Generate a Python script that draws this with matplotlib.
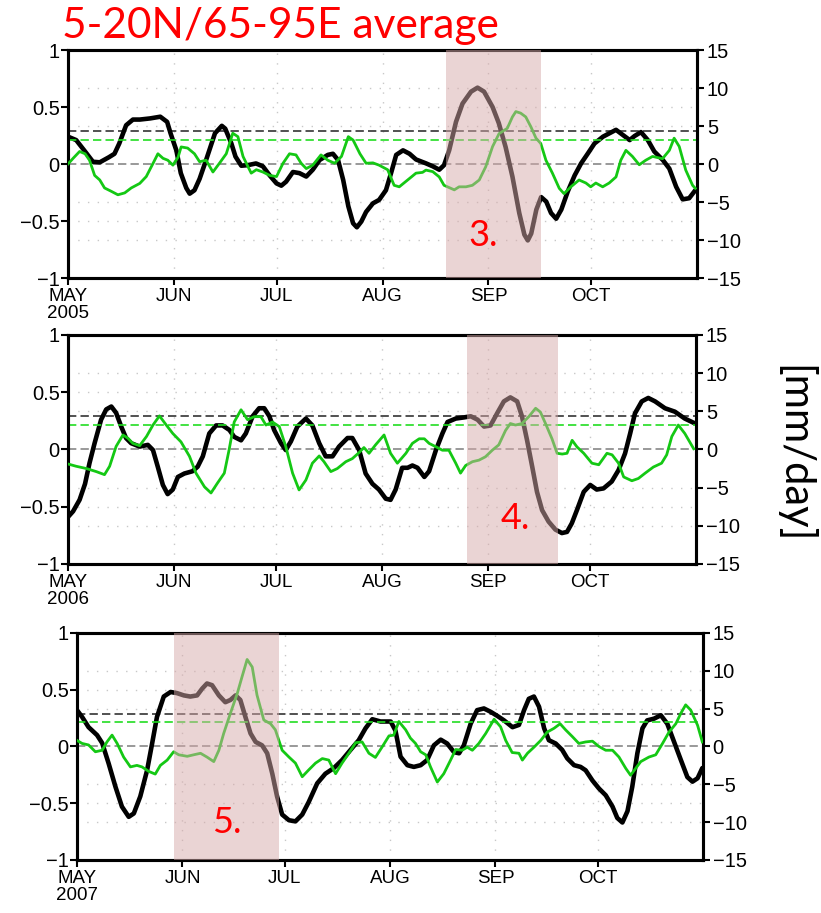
import numpy as np
import matplotlib
matplotlib.use('Agg')
import matplotlib.pyplot as plt

# days since 1 May
# 2005
days_k05 = [0, 2.4, 5, 7.3, 9.3, 12, 13.6, 15, 17, 19, 21, 24, 27, 29, 30, 31.7, 33, 34.6, 35.6, 37, 38.5, 40.4,
            43, 45, 46, 47.8, 49, 50.7, 52.6, 55, 57, 59, 61, 62.4, 63.8, 65.8, 67.7, 69.7, 71.6, 73.6, 76, 77.5,
            79, 80.5, 82, 83.4, 84.5, 85.8, 87.2, 89.2, 91, 93, 94.5, 96, 98, 99.9, 101.8, 104.7, 106.7, 108.6,
            110, 111.5, 113.5, 115.4, 117.9, 119.8, 121.7, 124.2, 126, 128, 130, 132, 133.5, 134.5, 135.5, 137,
            138.4, 139.9, 141.3, 142.8, 144.3, 146.2, 148.2, 150.1, 152.1, 154, 156.5, 158.4, 160.3, 162.3, 164.3,
            165.7, 167.6, 169.6, 171.5, 174, 175.9, 177.9, 179.8, 181.7, 183.5]
black_05 = [0.24, 0.21, 0.11, 0.02, 0.015, 0.06, 0.09, 0.18, 0.34, 0.39, 0.39, 0.40, 0.415, 0.37, 0.27, 0.12, -0.08,
            -0.21, -0.26, -0.23, -0.13, 0.035, 0.27, 0.335, 0.31, 0.18, 0.065, -0.015, -0.01, 0.005, -0.02, -0.10,
            -0.17, -0.19, -0.155, -0.07, -0.08, -0.11, -0.05, 0.035, 0.08, 0.09, 0.035, -0.14, -0.37, -0.52, -0.555,
            -0.505, -0.42, -0.345, -0.315, -0.23, -0.08, 0.08, 0.12, 0.09, 0.04, 0.006, -0.02, -0.05, -0.01, 0.12,
            0.37, 0.53, 0.635, 0.67, 0.635, 0.50, 0.36, 0.15, -0.11, -0.43, -0.62, -0.67, -0.61, -0.40, -0.29, -0.33,
            -0.43, -0.48, -0.40, -0.24, -0.10, 0.006, 0.094, 0.18, 0.24, 0.27, 0.30, 0.255, 0.21, 0.245, 0.28, 0.21,
            0.11, 0.035, -0.04, -0.20, -0.31, -0.30, -0.23]
days_g05 = [0, 1.5, 3.4, 5, 6.3, 7.8, 9.3, 10.7, 12.7, 14.6, 16.6, 18.5, 21, 22.9, 24.9, 26.3, 27.8, 29.2, 30.7,
            32.2, 33.1, 35, 37, 38.5, 40.4, 42.4, 44.3, 46.3, 48.2, 49.7, 51.2, 52.6, 53.6, 55.1, 57, 59, 61, 62.9,
            64.8, 66.7, 68.2, 69.7, 71.6, 74, 76, 78, 80, 82, 83.4, 85.4, 87.2, 89.2, 91, 93.5, 95.4, 96.9, 99.9,
            101.8, 103.7, 104.7, 106.7, 108.6, 110, 111.5, 113, 114.4, 116.4, 118.3, 120.3, 122.2, 124.2, 126.1,
            128.5, 130, 131, 132.4, 133.9, 135.4, 136.9, 138.3, 139.8, 141.7, 143.7, 145.1, 147.1, 149.5, 151.5,
            152.9, 154.4, 156.4, 158.3, 160.3, 161.7, 163.2, 165.1, 167.1, 169, 171, 173.9, 175.9, 177.3, 178.8,
            180.7, 182.7, 183.5]
green_05 = [0.0, 0.75, 1.65, 1.35, 0.5, -1.5, -2.1, -3.15, -3.6, -4.05, -3.8, -3.15, -2.55, -1.65, 0.1, 1.35, 0.75,
            0.5, -0.15, 0.9, 2.25, 2.1, 1.35, 0.3, 0.5, -1.05, 0.1, 1.35, 4.05, 3.6, 1.0, -0.3, -1.2, -0.75, -1.05,
            -1.5, -1.65, 0.1, 1.35, 1.2, 0.1, -0.6, -0.15, 1.2, 0.5, 0.1, 1.0, 3.6, 3.15, 1.35, 0.1, 0.15, -0.15,
            -0.75, -2.8, -3.0, -1.9, -1.2, -1.1, -0.8, -1.0, -1.7, -2.8, -3.1, -3.4, -3.0, -3.0, -2.8, -2.1, -0.35,
            2.3, 4.0, 4.7, 6.2, 6.9, 6.7, 6.2, 4.9, 3.4, 2.7, 0.5, -1.2, -3.2, -3.9, -3.0, -2.1, -2.5, -3.0, -2.5,
            -3.0, -2.5, -1.7, 0.5, 1.8, 1.0, -0.1, 0.5, 1.0, 0.7, 1.8, 3.4, 2.3, -0.8, -2.8, -3.2]

# 2006
days_k06 = [0, 1.5, 3.4, 5, 6.3, 7.8, 9.7, 11.2, 12.7, 14.1, 15.6, 17, 18.5, 21, 23.4, 24.9, 26.3, 27.8, 29.2,
            30.7, 32.2, 34.1, 36.5, 38, 39.5, 41.4, 43.4, 45.3, 47.3, 48.7, 50.7, 52.1, 54.1, 56, 57.5, 59, 60.4,
            62.4, 63.8, 65.3, 67.2, 69.7, 71.6, 73.6, 75.5, 77.5, 79.4, 81.9, 83.3, 85.3, 87.2, 89.2, 91.1, 93.1,
            94.5, 96, 97.9, 99.5, 100.9, 102.4, 104.4, 105.8, 107.8, 109.7, 111.2, 113.6, 116, 118, 120, 121.9,
            123.8, 125.8, 127.7, 129.6, 131.6, 133, 134.5, 136, 137.4, 138.9, 140.8, 142.8, 144.7, 146.2, 147.6,
            149.1, 151.1, 153, 154.9, 156.9, 159.3, 161.3, 163.2, 164.7, 166.1, 168.1, 170, 172, 174.9, 177.8,
            180.7, 183.5]
black_06 = [-0.59, -0.54, -0.44, -0.30, -0.12, 0.055, 0.26, 0.35, 0.375, 0.32, 0.20, 0.10, 0.055, 0.025, 0.04,
            -0.005, -0.15, -0.31, -0.39, -0.35, -0.24, -0.21, -0.19, -0.15, -0.06, 0.14, 0.21, 0.21, 0.17, 0.11,
            0.08, 0.14, 0.29, 0.36, 0.36, 0.29, 0.17, 0.055, -0.005, 0.07, 0.20, 0.27, 0.21, 0.055, -0.06, -0.06,
            0.025, 0.10, 0.10, -0.005, -0.21, -0.30, -0.35, -0.43, -0.44, -0.35, -0.16, -0.16, -0.14, -0.16, -0.24,
            -0.19, -0.005, 0.14, 0.24, 0.27, 0.28, 0.29, 0.26, 0.20, 0.21, 0.32, 0.42, 0.455, 0.42, 0.29, 0.08,
            -0.15, -0.37, -0.53, -0.63, -0.70, -0.73, -0.72, -0.645, -0.53, -0.37, -0.31, -0.35, -0.34, -0.28,
            -0.18, -0.035, 0.14, 0.315, 0.42, 0.45, 0.42, 0.36, 0.33, 0.27, 0.23]
days_g06 = [0, 2.4, 5.4, 8.3, 10.7, 12.2, 14.1, 16.1, 17.5, 19, 21, 23, 24.9, 26.8, 28.8, 30.7, 33.1, 35.6, 37.5,
            40, 41.9, 43.8, 45.8, 47.2, 48.7, 50.7, 52.6, 54.6, 56.5, 58, 59.9, 61.9, 63.8, 65.8, 67.7, 69.7, 71.6,
            73.6, 75, 77, 78.9, 81.4, 83.3, 85.3, 86.7, 88.2, 90.1, 92.6, 94.5, 96.5, 99, 100.9, 102.9, 104.4,
            105.8, 107.8, 109.7, 111.6, 113.6, 115, 116.5, 118.5, 120.4, 122.3, 124.3, 126.2, 128.2, 129.6, 131.1,
            133, 135, 137, 138.4, 139.9, 141.8, 143.3, 144.8, 146.2, 147.7, 149.1, 151.1, 153.5, 155.5, 157.9,
            159.4, 161.3, 162.8, 165.2, 167.1, 169.1, 171.5, 173.9, 175.4, 176.9, 178.8, 180.7, 183.3]
green_06 = [-1.9, -2.2, -2.5, -2.9, -3.3, -2.2, 0.4, 1.9, 1.5, 0.8, 0.5, 1.7, 3.2, 4.4, 3.2, 2.1, 1.0, -0.9, -3.1,
            -4.9, -5.7, -4.4, -3.1, -0.05, 3.6, 5.2, 3.9, 4.3, 4.3, 3.2, 3.6, 3.0, 0.4, -3.1, -5.3, -4.0, -1.8,
            -0.85, -1.6, -2.9, -2.5, -1.6, -1.2, -0.4, 0.25, -0.5, 0.6, 1.9, -0.5, -1.8, -0.5, 0.8, 1.4, 1.4, 0.8,
            0.35, -0.1, -0.1, -1.8, -3.1, -2.1, -1.6, -1.4, -0.96, -0.1, 0.6, 2.5, 3.4, 3.2, 3.4, 4.3, 5.4, 4.9,
            3.4, 1.4, -0.5, -0.6, -0.5, 1.2, 0.35, -0.5, -1.8, -2.0, -0.5, -0.7, -1.8, -3.6, -4.1, -3.8, -3.1,
            -2.3, -1.8, -0.7, 1.7, 3.2, 2.1, 0.1]

# 2007
days_k07 = [0, 1.5, 3.4, 5.9, 7.4, 9.3, 11.3, 13.2, 15.2, 16.7, 18.6, 20.6, 22.1, 23.5, 25.5, 27.5, 29.4, 31.4,
            33.3, 35.3, 36.8, 38.2, 39.7, 41.7, 43.6, 45.1, 46.6, 48, 49.5, 51, 52.5, 54.4, 55.9, 57.4, 58.8, 60.3,
            62.3, 64.2, 66.2, 68.1, 70.6, 73, 75.5, 77.9, 80.4, 82.8, 84.8, 86.8, 89.2, 92.2, 93.6, 95.1, 97.1,
            99, 101, 102.9, 104.9, 106.9, 108.8, 110.8, 112.3, 113.7, 115.7, 117.6, 119.6, 121.6, 123.5, 125.5,
            128, 129.9, 131.4, 132.8, 134.3, 135.8, 137.3, 138.7, 140.7, 142.6, 144.1, 146.1, 148, 149.5, 151.5,
            153.4, 155.4, 157.4, 158.8, 160.3, 161.8, 163.2, 164.7, 166.2, 167.6, 169.6, 171.6, 173.5, 175.5,
            177.5, 179.4, 180.9, 182.4, 183.8]
black_07 = [0.32, 0.26, 0.17, 0.10, 0.03, -0.15, -0.355, -0.53, -0.62, -0.59, -0.44, -0.21, 0.03, 0.26, 0.44,
            0.48, 0.47, 0.45, 0.44, 0.45, 0.51, 0.555, 0.54, 0.45, 0.39, 0.41, 0.45, 0.41, 0.26, 0.115, 0.04, 0.01,
            -0.06, -0.24, -0.44, -0.60, -0.65, -0.66, -0.60, -0.49, -0.325, -0.24, -0.19, -0.12, -0.03, 0.055, 0.16,
            0.24, 0.22, 0.22, 0.14, -0.09, -0.165, -0.18, -0.165, -0.12, 0.01, 0.06, 0.026, -0.05, -0.06, 0.01,
            0.20, 0.32, 0.335, 0.305, 0.27, 0.23, 0.17, 0.19, 0.32, 0.42, 0.44, 0.35, 0.16, 0.055, 0.026, -0.03,
            -0.105, -0.165, -0.18, -0.21, -0.30, -0.37, -0.43, -0.53, -0.63, -0.67, -0.57, -0.355, -0.06, 0.16,
            0.23, 0.245, 0.275, 0.20, 0.04, -0.12, -0.27, -0.31, -0.28, -0.19]
days_g07 = [0, 1.5, 3.4, 5.4, 7.4, 8.8, 10.3, 11.8, 13.7, 15.7, 17.6, 19.1, 21.1, 23, 24.5, 26.5, 28.4, 29.9,
            32.4, 34.3, 36.3, 38.2, 40.2, 41.7, 43.1, 45.1, 47.1, 48.5, 50, 51.5, 52.9, 54.9, 56.9, 58.3, 60.3,
            62.3, 64.2, 66.2, 68.1, 70.1, 72.1, 74, 76, 77.9, 79.9, 81.9, 83.8, 85.8, 87.7, 89.7, 91.7, 93.1, 94.6,
            96.6, 98, 99.5, 101, 102.5, 103.9, 105.9, 107.8, 109.8, 111.3, 113.2, 114.7, 116.2, 118.1, 120.1, 122.6,
            124.5, 126, 127.9, 129.9, 130.9, 132.4, 134.3, 136.3, 138.2, 140.2, 142, 143.6, 145.6, 147.5, 149.5,
            151.5, 153.4, 155.4, 157.4, 159.3, 161.3, 162.7, 164.2, 165.7, 168.1, 170.1, 172.1, 174, 176, 177.5,
            178.9, 180.4, 182.4, 183.8]
green_07 = [0.8, 0.4, 0.2, -0.7, -0.5, 0.6, 1.5, 0.4, -1.4, -2.7, -2.5, -2.7, -3.3, -3.65, -2.5, -1.8, -0.7, -1.1,
            -1.3, -1.1, -0.9, -1.4, -2.0, -0.5, 1.7, 4.4, 7.0, 9.2, 11.5, 10.5, 6.8, 3.5, 3.0, 2.2, -0.5, -1.4, -2.2,
            -4.0, -3.1, -2.2, -1.6, -1.8, -3.6, -2.2, -0.9, 0.5, 0.6, -0.9, -1.45, -0.05, 1.4, 1.5, 3.3, 2.2, 1.1,
            0.4, -0.7, -1.1, -2.7, -4.7, -3.6, -1.8, -0.4, -0.5, -0.1, -0.5, 0.4, 1.7, 3.6, 2.6, 0.8, -0.8, -0.9,
            -1.8, -0.9, -0.1, 0.8, 1.9, 2.4, 3.0, 2.2, 1.3, 0.4, 0.6, 0.7, 0.0, -0.5, -0.5, -1.4, -2.9, -3.8, -2.9,
            -2.0, -1.4, -1.1, 0.4, 1.9, 3.0, 4.4, 5.5, 4.8, 2.8, 0.6]

years = ['2005', '2006', '2007']
black_ref = 0.29      # dashed black reference (left axis)
green_ref = 3.2       # dashed green reference (mm/day)
shade_spans = [(110.5, 138.5), (117, 143.5), (28.5, 59.5)]
shade_labels = ['3.', '4.', '5.']
label_pos = [(121.5, -0.63), (131, -0.6), (44, -0.67)]

month_days = [0, 31, 61, 92, 123, 153]
month_names = ['MAY', 'JUN', 'JUL', 'AUG', 'SEP', 'OCT']

panels = [
    (days_k05, black_05, days_g05, green_05),
    (days_k06, black_06, days_g06, green_06),
    (days_k07, black_07, days_g07, green_07),
]
# axes boxes [left, bottom, width, height] in figure fractions
boxes = [[0.0828, 0.6955, 0.7662, 0.2497],
         [0.0828, 0.3823, 0.7650, 0.2508],
         [0.0938, 0.0581, 0.7625, 0.2486]]

tick_font = ['Liberation Sans', 'DejaVu Sans']
fig = plt.figure(figsize=(8.21, 9.13), dpi=100)

for i, (dk, vk, dg, vg) in enumerate(panels):
    ax = fig.add_axes(boxes[i])
    ax2 = ax.twinx()
    ax.set_xlim(0, 184)
    ax.set_ylim(-1, 1)
    ax2.set_ylim(-15, 15)

    # dotted grid
    for d in month_days[1:]:
        ax.axvline(d, color='#c8c8c8', lw=1, ls=(0, (1, 6)), zorder=0)
    for v in [-2/3, -0.5, -1/3, 1/3, 0.5, 2/3]:
        ax.axhline(v, color='#c8c8c8', lw=1, ls=(0, (1, 6)), zorder=0)

    ax.axhline(0, color='#888888', lw=1.2, ls=(0, (5, 2.5)), zorder=1)
    ax.axhline(black_ref, color='#333333', lw=1.2, ls=(0, (5, 2.5)), zorder=1)
    ax2.axhline(green_ref, color='#22dd22', lw=1.2, ls=(0, (5, 2.5)), zorder=1)

    ax.plot(dk, vk, color='black', lw=3.3, solid_capstyle='round', solid_joinstyle='round', zorder=3)
    ax2.plot(dg, vg, color='#14c814', lw=2.0, solid_joinstyle='round', zorder=3)

    # highlighted event window
    s0, s1 = shade_spans[i]
    ax2.axvspan(s0, s1, color='#d7aaaa', alpha=0.5, lw=0, zorder=5)
    ax2.text(label_pos[i][0], label_pos[i][1] * 15, shade_labels[i], color='red', fontsize=26,
             family='Lato', ha='center', va='center', zorder=6)

    ax.set_yticks([-1, -0.5, 0, 0.5, 1])
    ax.set_yticklabels(['\u22121', '\u22120.5', '0', '0.5', '1'])
    ax2.set_yticks([-15, -10, -5, 0, 5, 10, 15])
    ax2.set_yticklabels(['\u221215', '\u221210', '\u22125', '0', '5', '10', '15'])
    ax.set_xticks(month_days)
    ax.set_xticklabels([month_names[0] + '\n' + years[i]] + month_names[1:], linespacing=1.0)

    for a in (ax, ax2):
        for sp in a.spines.values():
            sp.set_linewidth(2.2)
    ax.tick_params(axis='y', direction='out', length=5, width=1.5, labelsize=14.5, pad=1)
    ax.tick_params(axis='x', direction='out', length=5, width=1.5, labelsize=13.5, pad=2)
    ax2.tick_params(axis='y', direction='out', length=5, width=1.5, labelsize=14.5, pad=2)
    for lab in ax.get_xticklabels() + ax.get_yticklabels() + ax2.get_yticklabels():
        lab.set_family(tick_font)

fig.text(0.076, 0.9715, '5-20N/65-95E average', color='red', fontsize=30.5, family='Lato',
         ha='left', va='center')
fig.text(0.968, 0.503, '[mm/day]', color='black', fontsize=30, family='Lato',
         rotation=270, ha='center', va='center')

fig.savefig('out.png', dpi=100)
